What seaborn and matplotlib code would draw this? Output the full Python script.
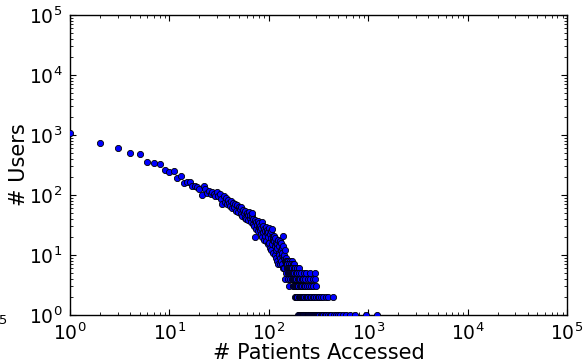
import matplotlib
matplotlib.use("Agg")
import matplotlib.pyplot as plt
import seaborn as sns
import pandas as pd
from matplotlib.ticker import LogLocator, NullFormatter

# Number of users who accessed exactly k patients, k = 1..150
head_counts = [
    1100, 750, 600, 505, 490, 360, 345, 333, 258, 240,
    250, 190, 205, 160, 165, 165, 140, 142, 138, 125,
    100, 140, 128, 108, 116, 106, 114, 105, 98, 112,
    96, 105, 85, 72, 95, 78, 88, 70, 82, 74,
    66, 80, 60, 75, 62, 70, 55, 68, 52, 64,
    58, 48, 62, 45, 56, 50, 42, 55, 40, 51,
    46, 38, 52, 41, 47, 35, 44, 51, 33, 40,
    30, 20, 38, 27, 36, 32, 25, 37, 29, 34,
    26, 31, 22, 28, 35, 20, 30, 24, 27, 18,
    25, 21, 29, 17, 26, 23, 15, 24, 20, 28,
    16, 22, 13, 19, 25, 12, 27, 15, 18, 20,
    11, 17, 21, 10, 14, 19, 12, 16, 9, 15,
    13, 8, 18, 7, 11, 14, 10, 17, 9, 7,
    12, 8, 16, 10, 13, 7, 11, 21, 14, 6,
    9, 6, 10, 8, 12, 4, 9, 7, 5, 8,
]
head_patients = list(range(1, len(head_counts) + 1))

# Beyond 150 patients the counts are small; patient totals grouped by user count
tail_8 = [151, 156, 163, 170]
tail_7 = [153, 158, 166, 174, 181]
tail_6 = [152, 155, 160, 164, 168, 172, 177, 185, 192, 199]
tail_5 = [154, 159, 162, 167, 171, 176, 180, 187, 194, 203, 212, 224, 238, 262, 290]
tail_4 = [157, 165, 169, 175, 179, 183, 189, 196, 201, 207, 215, 221, 230, 245, 258, 275, 292]
tail_3 = [161, 173, 178, 182, 186, 190, 195, 198, 205, 210, 217, 226, 233, 241, 252, 266, 280, 300]
tail_2 = [184, 188, 191, 193, 200, 204, 208, 211, 214, 219, 223, 228, 235, 243, 250, 257,
          268, 279, 286, 296, 310, 322, 335, 350, 372, 395, 440]
tail_1 = [197, 202, 206, 209, 213, 218, 222, 227, 231, 236, 240, 246, 249, 254, 260, 265,
          271, 277, 284, 288, 295, 303, 312, 320, 331, 340, 352, 365, 378, 392, 410, 425,
          447, 470, 495, 520, 560, 600, 650, 735, 950, 1215]

tails = {8: tail_8, 7: tail_7, 6: tail_6, 5: tail_5, 4: tail_4, 3: tail_3, 2: tail_2, 1: tail_1}

patients = list(head_patients)
users = list(head_counts)
for count, xs in tails.items():
    patients += xs
    users += [count] * len(xs)

df = pd.DataFrame({"patients": patients, "users": users})

sns.set_style("white")
plt.rcParams["font.family"] = ["DejaVu Sans"]
plt.rcParams["mathtext.default"] = "regular"
plt.rcParams["text.color"] = "black"
plt.rcParams["axes.labelcolor"] = "black"
plt.rcParams["xtick.color"] = "black"
plt.rcParams["ytick.color"] = "black"

fig = plt.figure(figsize=(5.84, 3.60), dpi=100)
ax = fig.add_axes([0.12, 0.125, 0.851, 0.833])

sns.scatterplot(data=df, x="patients", y="users", ax=ax,
                color="#0000ff", edgecolor="black", linewidth=0.6, s=20,
                zorder=3)

ax.set_xscale("log")
ax.set_yscale("log")
ax.set_xlim(1, 1e5)
ax.set_ylim(1, 1e5)

ax.xaxis.set_major_locator(LogLocator(base=10, numticks=10))
ax.yaxis.set_major_locator(LogLocator(base=10, numticks=10))
ax.xaxis.set_minor_locator(LogLocator(base=10, subs=range(2, 10), numticks=100))
ax.yaxis.set_minor_locator(LogLocator(base=10, subs=range(2, 10), numticks=100))
ax.xaxis.set_minor_formatter(NullFormatter())
ax.yaxis.set_minor_formatter(NullFormatter())

ax.tick_params(which="both", direction="in", top=True, right=True,
               bottom=True, left=True, color="black", labelcolor="black")
ax.tick_params(which="major", length=4, width=0.8, labelsize=13.5, pad=5.5)
ax.tick_params(which="minor", length=2, width=0.6)

for sp in ax.spines.values():
    sp.set_color("black")
    sp.set_linewidth(1.0)

ax.set_xlabel("# Patients Accessed", fontsize=15, labelpad=-1, color="black")
ax.set_ylabel("# Users", fontsize=15, labelpad=0, color="black")

fig.text(7 / 584, 1 - 326 / 360, "$10^5$", ha="right", va="center", fontsize=13.5)

fig.savefig("out.png", dpi=100)
